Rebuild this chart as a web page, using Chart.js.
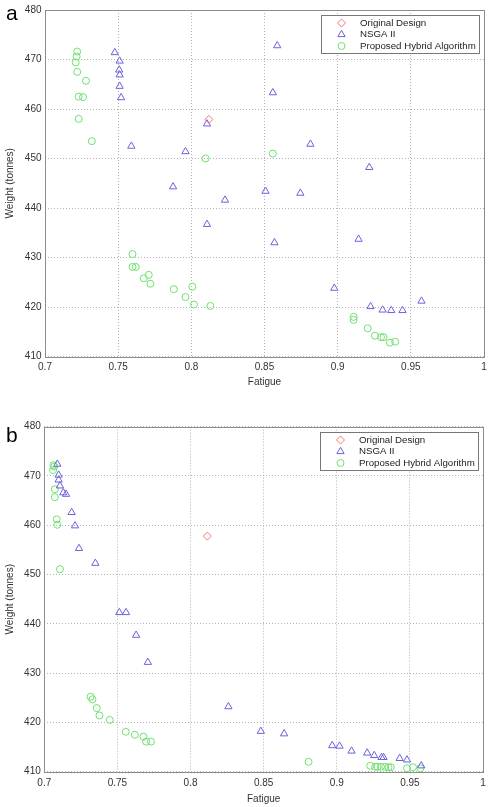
<!DOCTYPE html>
<html>
<head>
<meta charset="utf-8">
<script src="https://cdn.jsdelivr.net/npm/chart.js@4.4.0/dist/chart.umd.min.js"></script>
<style>
  body { margin: 0; background: #fff; width: 493px; height: 807px; position: relative; overflow: hidden; }
  canvas { position: absolute; left: 0; }
  .panel { position: absolute; left: 6px; font: 21px "Liberation Sans", Arial, sans-serif; color: #000; line-height: 1; }
</style>
</head>
<body>
<canvas id="chart-a" width="493" height="403" style="top:0"></canvas>
<canvas id="chart-b" width="493" height="404" style="top:403px"></canvas>
<div class="panel" style="top:2px">a</div>
<div class="panel" style="top:424px">b</div>
<script>
// panel a
const origFatigueA = [0.812];
const origWeightA = [457.9];
const nsgaFatigueA = [0.7477, 0.751, 0.7507, 0.751, 0.751, 0.752, 0.759, 0.796, 0.8107, 0.7875, 0.823, 0.8107, 0.8587, 0.8557, 0.8814, 0.9216, 0.8507, 0.8745, 0.8568, 0.9143, 0.8977, 0.9225, 0.9307, 0.9366, 0.9443, 0.9573];
const nsgaWeightA = [471.4, 469.7, 467.9, 466.9, 464.6, 462.3, 452.5, 451.4, 457.0, 444.3, 441.6, 436.7, 472.8, 463.3, 452.9, 448.2, 443.4, 443.0, 433.0, 433.7, 423.8, 420.1, 419.4, 419.3, 419.3, 421.2];
const hybridFatigueA = [0.722, 0.7216, 0.721, 0.722, 0.728, 0.723, 0.726, 0.723, 0.732, 0.8097, 0.8557, 0.7598, 0.7598, 0.762, 0.7675, 0.7709, 0.772, 0.788, 0.796, 0.8007, 0.8018, 0.813, 0.9109, 0.9109, 0.9205, 0.9255, 0.9296, 0.9313, 0.9357, 0.9393];
const hybridWeightA = [471.6, 470.6, 469.4, 467.5, 465.7, 462.5, 462.4, 458.0, 453.5, 450.0, 451.0, 430.7, 428.1, 428.1, 425.8, 426.5, 424.7, 423.6, 422.0, 424.1, 420.5, 420.2, 418.0, 417.4, 415.7, 414.2, 413.9, 413.9, 412.8, 413.0];

// panel b
const origFatigueB = [0.8115];
const origWeightB = [457.8];
const nsgaFatigueB = [0.7089, 0.7098, 0.7098, 0.7107, 0.713, 0.7149, 0.7187, 0.721, 0.7237, 0.7349, 0.7513, 0.7559, 0.7628, 0.7708, 0.8259, 0.8481, 0.864, 0.8969, 0.9019, 0.9101, 0.9208, 0.9256, 0.9306, 0.932, 0.943, 0.948, 0.9578];
const nsgaWeightB = [472.4, 470.2, 469.2, 468.0, 466.6, 466.3, 462.6, 459.9, 455.3, 452.3, 442.3, 442.3, 437.7, 432.2, 423.2, 418.2, 417.7, 415.3, 415.2, 414.2, 413.8, 413.3, 412.9, 412.9, 412.7, 412.4, 411.2];
const hybridFatigueB = [0.7062, 0.7068, 0.706, 0.7072, 0.7072, 0.7085, 0.7089, 0.7107, 0.7317, 0.7329, 0.7359, 0.7377, 0.7448, 0.7557, 0.7619, 0.7678, 0.7696, 0.773, 0.8807, 0.9229, 0.9263, 0.9279, 0.9302, 0.9331, 0.9354, 0.937, 0.948, 0.9521, 0.9571];
const hybridWeightB = [472.2, 471.9, 471.2, 467.3, 465.7, 461.2, 460.1, 451.1, 425.2, 424.7, 422.9, 421.4, 420.5, 418.1, 417.5, 417.1, 416.1, 416.1, 412.0, 411.2, 411.0, 411.0, 411.0, 411.0, 410.9, 410.9, 410.7, 410.9, 410.7];

const seriesNames = ["Original Design", "NSGA II", "Proposed Hybrid Algorithm"];
const xTicks = [0.7, 0.75, 0.8, 0.85, 0.9, 0.95, 1];
const yTicks = [410, 420, 430, 440, 450, 460, 470, 480];

Chart.defaults.font.family = '"Liberation Sans", Arial, sans-serif';
Chart.defaults.font.size = 10;
Chart.defaults.color = "#333";

const styles = [
  { color: "#f07a7a", shape: "rectRot", r: 4 },
  { color: "#6b63dc", shape: "triangle", r: 4.2 },
  { color: "#70e070", shape: "circle", r: 3.5 },
];

function toPoints(xs, ys) {
  return xs.map((x, i) => ({ x: x, y: ys[i] }));
}

// box around the axes + matlab style legend in the top right corner
const frameLegend = {
  id: "frameLegend",
  beforeDatasetsDraw(chart) {
    const a = chart.chartArea;
    const ctx = chart.ctx;
    ctx.save();
    ctx.strokeStyle = "#8c8c8c";
    ctx.lineWidth = 1;
    ctx.strokeRect(Math.round(a.left) + 0.5, Math.round(a.top) + 0.5, Math.round(a.right - a.left), Math.round(a.bottom - a.top));
    ctx.restore();
  },
  afterDatasetsDraw(chart) {
    const a = chart.chartArea;
    const ctx = chart.ctx;
    const right = Math.round(a.right - 5);
    const top = Math.round(a.top + 5);
    ctx.save();
    ctx.fillStyle = "#fff";
    ctx.fillRect(right - 158, top, 158, 38);
    ctx.strokeStyle = "#777";
    ctx.lineWidth = 1;
    ctx.strokeRect(right - 158 + 0.5, top + 0.5, 158, 38);
    ctx.font = '9.7px "Liberation Sans", Arial, sans-serif';
    ctx.textBaseline = "middle";
    seriesNames.forEach((name, i) => {
      const yy = top + 8 + i * 11.5;
      ctx.strokeStyle = styles[i].color;
      ctx.fillStyle = "rgba(0,0,0,0)";
      ctx.lineWidth = 1;
      Chart.helpers.drawPoint(ctx, { pointStyle: styles[i].shape, radius: styles[i].r, borderWidth: 1 }, right - 137.5, yy);
      ctx.fillStyle = "#222";
      ctx.fillText(name, right - 119, yy);
    });
    ctx.restore();
  },
};

function makeChart(id, orig, nsga, hybrid, opt) {
  const sets = [orig, nsga, hybrid].map((pts, i) => ({
    label: seriesNames[i],
    data: pts,
    pointStyle: styles[i].shape,
    pointRadius: styles[i].r,
    pointBorderColor: styles[i].color,
    pointBackgroundColor: "rgba(0,0,0,0)",
    pointBorderWidth: 1,
    showLine: false,
    clip: false,
  }));
  return new Chart(document.getElementById(id).getContext("2d"), {
    type: "scatter",
    data: { datasets: sets },
    options: {
      responsive: false,
      animation: false,
      layout: { padding: opt.padding },
      plugins: { legend: { display: false }, tooltip: { enabled: false } },
      scales: {
        x: {
          type: "linear",
          min: 0.7,
          max: 1,
          afterBuildTicks: (s) => { s.ticks = xTicks.map((v) => ({ value: v })); },
          afterFit: (s) => { s.height = opt.xHeight; },
          ticks: { padding: opt.xTickPad, color: "#333", callback: (v) => String(+v.toFixed(2)) },
          grid: { color: "#b4b4b4", drawTicks: false },
          border: { display: false, dash: [1, 2] },
          title: { display: true, text: "Fatigue", color: "#333", padding: { top: 4, bottom: opt.titlePad } },
        },
        y: {
          min: 410,
          max: 480,
          afterBuildTicks: (s) => { s.ticks = yTicks.map((v) => ({ value: v })); },
          afterFit: (s) => { s.width = opt.yWidth; },
          ticks: { padding: 3.5, color: "#333" },
          grid: { color: "#b4b4b4", drawTicks: false },
          border: { display: false, dash: [1, 2] },
          title: { display: true, text: "Weight (tonnes)", color: "#333", padding: { top: 4, bottom: 4 } },
        },
      },
    },
    plugins: [frameLegend],
  });
}

makeChart(
  "chart-a",
  toPoints(origFatigueA, origWeightA),
  toPoints(nsgaFatigueA, nsgaWeightA),
  toPoints(hybridFatigueA, hybridWeightA),
  { padding: { top: 10, right: 9, bottom: 10.5, left: 0 }, xHeight: 36, yWidth: 45, xTickPad: 5, titlePad: 4 }
);

makeChart(
  "chart-b",
  toPoints(origFatigueB, origWeightB),
  toPoints(nsgaFatigueB, nsgaWeightB),
  toPoints(hybridFatigueB, hybridWeightB),
  { padding: { top: 23.7, right: 10, bottom: 0, left: 0 }, xHeight: 35.3, yWidth: 44.3, xTickPad: 5.6, titlePad: 1.7 }
);
</script>
</body>
</html>
